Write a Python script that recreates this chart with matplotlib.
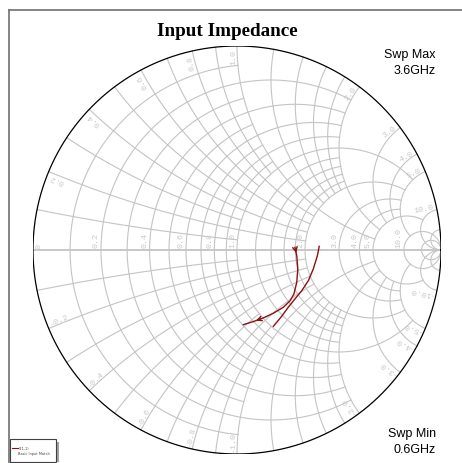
import numpy as np
import matplotlib
matplotlib.use("Agg")
from matplotlib import pyplot as plt

s11_a_re = [0.403, 0.394, 0.374, 0.350, 0.317, 0.284, 0.251, 0.219, 0.195, 0.178]
s11_a_im = [0.018, -0.028, -0.093, -0.150, -0.200, -0.240, -0.281, -0.325, -0.354, -0.374]
s11_b_re = [0.284, 0.293, 0.298, 0.293, 0.279, 0.260, 0.227, 0.178, 0.129, 0.080, 0.031]
s11_b_im = [0.013, -0.028, -0.093, -0.158, -0.216, -0.249, -0.281, -0.310, -0.333, -0.351, -0.366]

# grid values: (value, limit of the other coordinate)
r_grid = [(0.1, 1), (0.2, 2), (0.3, 1), (0.4, 2), (0.5, 1), (0.6, 2), (0.7, 1), (0.8, 2), (0.9, 1),
          (1.0, 5), (1.2, 2), (1.4, 2), (1.6, 2), (1.8, 2), (2.0, 5),
          (3.0, 5), (4.0, 5), (5.0, 10), (10.0, np.inf), (20.0, np.inf)]
x_grid = [(0.1, 1), (0.2, 2), (0.3, 1), (0.4, 2), (0.5, 1), (0.6, 2), (0.7, 1), (0.8, 2), (0.9, 1),
          (1.0, 5), (1.2, 2), (1.4, 2), (1.6, 2), (1.8, 2), (2.0, 5),
          (3.0, 5), (4.0, 5), (5.0, 10), (10.0, np.inf), (20.0, np.inf)]
r_labels = [0, 0.2, 0.4, 0.6, 0.8, 1.0, 2.0, 3.0, 4.0, 5.0, 10.0]
x_labels = [0.2, 0.4, 0.6, 0.8, 1.0, 2.0, 3.0, 4.0, 5.0, 10.0]

GRID = '#c4c4c4'
LBL = '#c8c8c8'
TRACE = '#8b1010'


def gamma(z):
    return (z - 1) / (z + 1)


fig = plt.figure(figsize=(4.62, 4.64), dpi=100)
ax = fig.add_axes([33 / 462, 9 / 464, 408 / 462, 408 / 464])
ax.set_xlim(-1, 1)
ax.set_ylim(-1, 1)
ax.axis('off')

# resistance circles
for r, xm in r_grid:
    t = np.linspace(-np.arctan(xm), np.arctan(xm), 400)
    g = gamma(r + 1j * np.tan(np.clip(t, -1.5707, 1.5707)))
    ax.plot(g.real, g.imag, color=GRID, lw=0.8, zorder=1)

# reactance arcs
for x, rm in x_grid:
    s = np.linspace(0, min(np.arctan(rm), 1.5707), 400)
    for sg in (1, -1):
        g = gamma(np.tan(s) + 1j * sg * x)
        ax.plot(g.real, g.imag, color=GRID, lw=0.8, zorder=1)

ax.plot([-1, 1], [0, 0], color=GRID, lw=1.3, zorder=1)
th = np.linspace(0, 2 * np.pi, 600)
ax.plot(np.cos(th), np.sin(th), color='black', lw=0.9, zorder=3)

# labels on the real axis
for r in r_labels:
    g = gamma(r + 0j).real
    if r == 0:
        ax.text(g + 0.01, 0.01, '0', rotation=90, rotation_mode='anchor', ha='left', va='top',
                color=LBL, fontsize=6, family='Liberation Mono')
    else:
        ax.text(g - 0.005, 0.015, '%.1f' % r, rotation=90, rotation_mode='anchor', ha='left',
                va='bottom', color=LBL, fontsize=6, family='Liberation Mono')

# labels at the rim
for x in x_labels:
    for sg in (1, -1):
        g = gamma(1j * sg * x)
        ang = np.degrees(np.angle(g))
        p = g * 0.985
        if sg > 0:
            ax.text(p.real, p.imag, '%.1f' % x, rotation=ang, rotation_mode='anchor',
                    ha='right', va='bottom', color=LBL, fontsize=6, family='Liberation Mono')
        else:
            ax.text(p.real, p.imag, '-%.1f' % x, rotation=ang + 180, rotation_mode='anchor',
                    ha='left', va='bottom', color=LBL, fontsize=6, family='Liberation Mono')

# trace
ax.plot(s11_a_re, s11_a_im, color=TRACE, lw=1.0, zorder=4)
ax.plot(s11_b_re, s11_b_im, color=TRACE, lw=1.0, zorder=4)
for i in (0, 8):
    ax.annotate('', xy=(s11_b_re[i + 1], s11_b_im[i + 1]), xytext=(s11_b_re[i], s11_b_im[i]),
                arrowprops=dict(arrowstyle='->', color=TRACE, lw=1.0, mutation_scale=8), zorder=5)

# frame, title, sweep text
fig.add_artist(plt.Line2D([9 / 462, 9 / 462], [0, 1 - 11 / 464], color='#707070', lw=1.2))
fig.add_artist(plt.Line2D([9 / 462, 1], [1 - 11 / 464, 1 - 11 / 464], color='#707070', lw=1.2))
fig.text(227 / 462, 1 - 32 / 464, 'Input Impedance', ha='center', va='center',
         fontsize=13.8, fontweight='bold', family='Liberation Serif')
fig.text(436 / 462, 1 - 55 / 464, 'Swp Max', ha='right', va='center', fontsize=9, family='Liberation Sans')
fig.text(436 / 462, 1 - 71 / 464, '3.6GHz', ha='right', va='center', fontsize=9, family='Liberation Sans')
fig.text(436 / 462, 1 - 434 / 464, 'Swp Min', ha='right', va='center', fontsize=9, family='Liberation Sans')
fig.text(436 / 462, 1 - 450 / 464, '0.6GHz', ha='right', va='center', fontsize=9, family='Liberation Sans')

# legend box
fig.add_artist(plt.Rectangle((56 / 462, 1 - 463 / 464), 3 / 462, 20 / 464, color='#a0a0a0', lw=0))
fig.add_artist(plt.Rectangle((10 / 462, 1 - 463 / 464), 46 / 462, 23 / 464, facecolor='white',
                             edgecolor='#404040', lw=0.8))
fig.add_artist(plt.Line2D([12 / 462, 18 / 462], [1 - 449 / 464, 1 - 449 / 464], color=TRACE, lw=0.8))
fig.text(19 / 462, 1 - 449 / 464, 'S(1,1)', fontsize=2.5, va='center', color='#404040')
fig.text(18 / 462, 1 - 454 / 464, 'Basic Input Match', fontsize=2.5, va='center', color='#404040')

fig.savefig('out.png', dpi=100)
